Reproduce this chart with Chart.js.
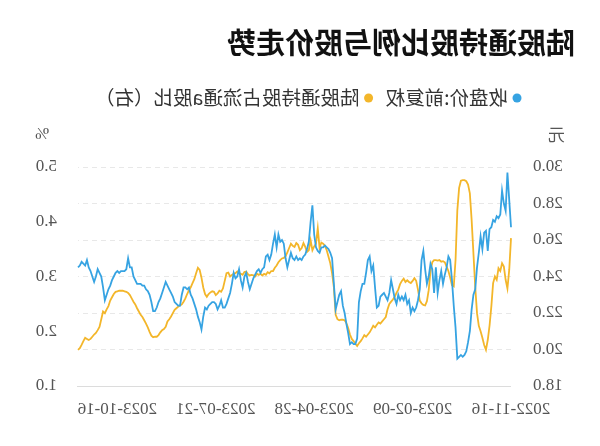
<!DOCTYPE html>
<html>
<head>
<meta charset="utf-8">
<script src="https://cdn.jsdelivr.net/npm/chart.js@4/dist/chart.umd.min.js"></script>
<style>
  html, body { margin: 0; padding: 0; background: #fff; }
  /* the reference picture is mirrored left-right, text included */
  #chart { display: block; transform: scaleX(-1); }
</style>
</head>
<body>
<canvas id="chart" width="600" height="446"></canvas>
<script>
const chartTitle = "陆股通持股比例与股价走势";
const seriesNames = ["收盘价:前复权", "陆股通持股占流通a股比（右）"];
const seriesColors = ["#36a3e2", "#f3b62a"];
const unitLeft = "元";
const unitRight = "%";

// x labels shown on the axis
const tickDates = ["2022-11-16", "2023-02-09", "2023-04-28", "2023-07-21", "2023-10-16"];

// closing price (yuan), one value per trading day from 2022-11-16
const closePrice = [
  26.7, 28.2, 29.7, 27.6, 28.0, 28.7, 27.4, 27.2, 27.3, 27.0,
  27.1, 26.7, 26.6, 25.4, 26.5, 26.4, 25.5, 26.2, 25.3, 24.5,
  23.3, 23.0, 22.2, 21.0, 20.4, 19.9, 19.7, 19.6, 19.7, 19.6,
  19.5, 21.2, 22.4, 23.8, 24.9, 25.1, 24.5, 24.1, 23.6, 24.3,
  23.8, 23.1, 24.5, 23.1, 24.4, 24.7, 24.0, 23.6, 24.4, 25.4,
  24.9, 23.3, 22.7, 22.3, 22.1, 22.3, 22.0, 22.7, 22.5, 23.0,
  22.7, 22.9, 22.7, 23.0, 22.5, 22.8, 23.3, 23.8, 23.1, 22.7,
  22.9, 23.1, 23.0, 22.9, 22.4, 22.3, 23.4, 24.6, 24.3, 25.1,
  24.9, 24.2, 23.6, 23.6, 23.2, 22.6, 20.6, 20.3, 20.3, 20.4,
  20.3, 20.9, 21.4, 22.0, 22.4, 23.2, 23.0, 22.6, 22.2, 23.6,
  25.0, 25.3, 25.5, 25.6, 25.7, 25.6, 25.6, 25.3, 25.4, 25.6,
  26.3, 27.9, 27.0, 25.9, 25.5, 25.2, 25.1, 24.9, 25.0, 24.9,
  25.1, 24.9, 25.0, 25.3, 24.9, 24.5, 25.0, 25.8, 26.0, 25.9,
  26.3, 25.6, 26.3, 25.8, 25.2, 24.9, 25.2, 25.1, 24.5, 24.4,
  24.2, 24.4, 24.3, 24.1, 23.9, 23.6, 23.3, 23.7, 24.2, 24.0,
  23.4, 23.8, 24.4, 24.0, 23.9, 24.2, 23.6, 23.1, 22.8, 22.5,
  22.3, 22.3, 22.7, 22.4, 22.2, 22.5, 22.6, 22.6, 22.5, 22.4,
  22.2, 22.3, 21.8, 21.1, 21.5, 21.8, 22.2, 22.5, 22.8, 23.0,
  23.4, 23.3, 23.4, 23.4, 23.0, 22.4, 22.4, 22.5, 22.6, 22.9,
  23.1, 23.3, 23.5, 23.7, 23.4, 23.1, 22.8, 22.6, 22.3, 22.1,
  22.1, 22.6, 23.0, 23.2, 23.3, 23.5, 23.5, 23.6, 23.6, 23.6,
  23.8, 24.0, 24.5, 24.5, 25.0, 24.4, 24.3, 24.3, 24.3, 24.2,
  24.3, 24.2, 24.0, 23.8, 23.5, 23.3, 23.0, 22.7, 23.4, 24.0,
  24.2, 24.4, 24.0, 23.7, 24.0, 24.3, 24.5, 24.9, 24.6, 24.7,
  24.8, 24.6, 24.5
];

// northbound holding as % of tradable A shares
const holdingPct = [
  3.70, 3.12, 2.78, 2.94, 3.18, 3.24, 3.10, 3.15, 2.94, 3.00,
  2.88, 2.45, 2.10, 1.84, 1.66, 1.75, 1.88, 2.00, 2.10, 2.33,
  2.81, 3.42, 4.03, 4.52, 4.68, 4.74, 4.76, 4.76, 4.75, 4.62,
  4.21, 3.30, 2.82, 2.84, 2.98, 3.10, 3.18, 3.26, 3.28, 3.27,
  3.30, 3.29, 3.30, 3.30, 3.26, 3.10, 2.75, 2.55, 2.47, 2.48,
  2.51, 2.56, 2.76, 2.92, 2.97, 2.92, 2.88, 2.90, 2.93, 2.90,
  2.96, 2.92, 2.86, 2.76, 2.70, 2.63, 2.58, 2.54, 2.50, 2.40,
  2.26, 2.22, 2.18, 2.14, 2.16, 2.12, 2.07, 2.10, 2.04, 1.98,
  1.94, 1.90, 1.93, 1.87, 1.82, 1.78, 1.73, 1.77, 1.82, 1.86,
  1.94, 2.06, 2.15, 2.20, 2.21, 2.21, 2.20, 2.22, 2.30, 2.80,
  3.06, 3.24, 3.36, 3.48, 3.56, 3.60, 3.62, 3.52, 3.88, 3.60,
  3.55, 3.48, 3.66, 3.48, 3.45, 3.54, 3.61, 3.52, 3.48, 3.58,
  3.61, 3.54, 3.56, 3.60, 3.52, 3.44, 3.37, 3.34, 3.33, 3.30,
  3.26, 3.20, 3.16, 3.10, 3.10, 3.06, 3.08, 3.03, 3.05, 3.02,
  3.05, 3.03, 3.05, 3.00, 3.02, 3.03, 3.02, 3.04, 3.09, 3.08,
  3.03, 3.05, 3.06, 3.09, 3.06, 3.05, 3.03, 3.00, 3.07, 3.06,
  2.92, 2.78, 2.72, 2.74, 2.69, 2.66, 2.72, 2.73, 2.71, 2.68,
  2.63, 2.68, 2.80, 2.98, 3.12, 3.16, 3.06, 2.95, 2.88, 2.80,
  2.75, 2.68, 2.60, 2.54, 2.49, 2.47, 2.45, 2.42, 2.39, 2.33,
  2.27, 2.22, 2.18, 2.08, 2.04, 2.02, 1.98, 1.93, 1.90, 1.90,
  1.89, 1.92, 1.99, 2.07, 2.14, 2.20, 2.26, 2.30, 2.36, 2.42,
  2.49, 2.54, 2.60, 2.66, 2.70, 2.72, 2.73, 2.74, 2.74, 2.74,
  2.73, 2.72, 2.68, 2.62, 2.56, 2.46, 2.40, 2.33, 2.36, 2.22,
  2.08, 2.02, 1.97, 1.94, 1.90, 1.86, 1.84, 1.86, 1.88, 1.82,
  1.75, 1.69, 1.66
];

// trading calendar: weekdays minus exchange holidays
const startDate = "2022-11-16";
const holidays = [
  "2023-01-02", "2023-01-23", "2023-01-24", "2023-01-25", "2023-01-26", "2023-01-27",
  "2023-04-05", "2023-05-01", "2023-05-02", "2023-05-03", "2023-06-22", "2023-06-23",
  "2023-09-29", "2023-10-02", "2023-10-03", "2023-10-04", "2023-10-05", "2023-10-06"
];

function tradingDays(start, count) {
  const out = [];
  const d = new Date(start + "T00:00:00Z");
  while (out.length < count) {
    const s = d.toISOString().slice(0, 10);
    const wd = d.getUTCDay();
    if (wd !== 0 && wd !== 6 && !holidays.includes(s)) out.push(s);
    d.setUTCDate(d.getUTCDate() + 1);
  }
  return out;
}
const dates = tradingDays(startDate, closePrice.length);

const tickFont = { family: "'Liberation Serif', 'DejaVu Serif', serif", size: 17 };

// title, legend and axis units drawn on the canvas
const headings = {
  id: "headings",
  afterDraw(chart) {
    const ctx = chart.ctx;
    ctx.save();
    ctx.textBaseline = "middle";
    ctx.textAlign = "left";
    ctx.fillStyle = "#111";
    ctx.font = "bold 29px 'Noto Sans CJK SC', sans-serif";
    ctx.fillText(chartTitle, 25, 43);

    ctx.font = "19.5px 'Noto Sans CJK SC', sans-serif";
    let x = 83;
    chart.data.datasets.forEach(ds => {
      ctx.fillStyle = ds.borderColor;
      ctx.beginPath();
      ctx.arc(x, 98, 4.5, 0, Math.PI * 2);
      ctx.fill();
      ctx.fillStyle = "#333";
      ctx.fillText(ds.label, x + 9, 98);
      x += 9 + ctx.measureText(ds.label).width + 17;
    });

    ctx.fillStyle = "#555";
    ctx.font = "17px 'Noto Sans CJK SC', sans-serif";
    ctx.fillText(unitLeft, 35, 135);
    ctx.textAlign = "right";
    ctx.font = "17px 'Liberation Serif', serif";
    ctx.fillText(unitRight, 565, 135);
    ctx.restore();
  }
};

new Chart("chart", {
  type: "line",
  data: {
    labels: dates,
    datasets: [
      {
        label: seriesNames[0],
        data: closePrice,
        yAxisID: "y",
        borderColor: seriesColors[0],
        backgroundColor: seriesColors[0],
      },
      {
        label: seriesNames[1],
        data: holdingPct,
        yAxisID: "y1",
        borderColor: seriesColors[1],
        backgroundColor: seriesColors[1],
      }
    ]
  },
  options: {
    responsive: false,
    animation: false,
    devicePixelRatio: 1,
    layout: { padding: { top: 167, left: 0, right: 0, bottom: 0 } },
    elements: {
      point: { radius: 0 },
      line: { borderWidth: 1.8, tension: 0 }
    },
    plugins: {
      legend: { display: false },
      title: { display: false },
      tooltip: { enabled: false }
    },
    scales: {
      x: {
        grid: { display: false },
        border: { display: true, color: "#dcdcdc" },
        ticks: {
          autoSkip: false,
          maxRotation: 0,
          minRotation: 0,
          padding: 5,
          color: "#555",
          font: tickFont,
          callback: (v, i) => tickDates.includes(dates[i]) ? dates[i] : null
        },
        afterFit: s => { s.height = 60; }
      },
      y: {
        position: "left",
        min: 18,
        max: 30,
        ticks: { stepSize: 2, padding: 22, color: "#555", font: tickFont, callback: v => v.toFixed(1) },
        grid: {
          drawTicks: false,
          color: c => c.tick && c.tick.value === 18 ? "#dcdcdc" : "#e8e8e8"
        },
        border: { display: false, dash: c => c.tick && c.tick.value === 18 ? [] : [5, 4] },
        afterFit: s => { s.width = 89; }
      },
      y1: {
        position: "right",
        min: 1,
        max: 5,
        ticks: { stepSize: 1, padding: 21, color: "#555", font: tickFont, callback: v => v.toFixed(1) },
        grid: { display: false, drawTicks: false },
        border: { display: false },
        afterFit: s => { s.width = 78; }
      }
    }
  },
  plugins: [headings]
});
</script>
</body>
</html>
